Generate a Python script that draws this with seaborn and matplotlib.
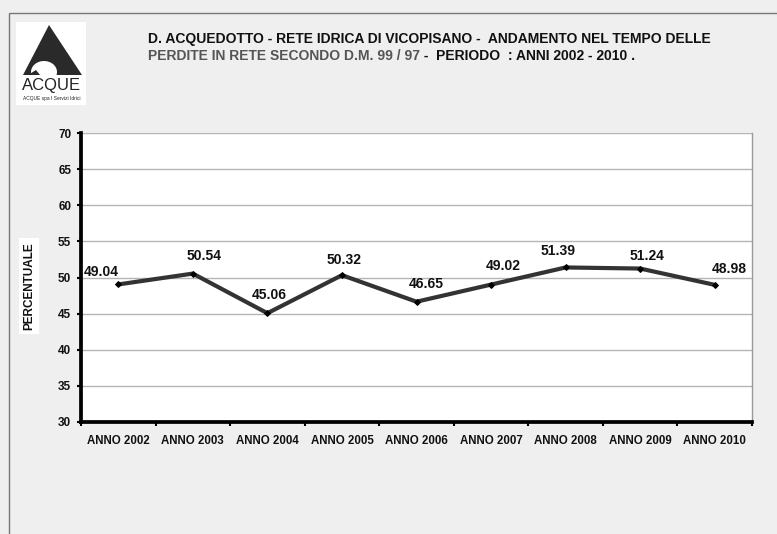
import numpy as np
import pandas as pd
import matplotlib
matplotlib.use('Agg')
import matplotlib.pyplot as plt
import seaborn as sns
from matplotlib.patches import Rectangle, Polygon, Ellipse

# dati
anni = ['ANNO 2002', 'ANNO 2003', 'ANNO 2004', 'ANNO 2005', 'ANNO 2006',
        'ANNO 2007', 'ANNO 2008', 'ANNO 2009', 'ANNO 2010']
perdite = [49.04, 50.54, 45.06, 50.32, 46.65, 49.02, 51.39, 51.24, 48.98]

# spostamento etichette (pixel) come nell'originale
nudge_x = [-17, 11, 2, 2, 10, 12, -8, 7, 15]
nudge_y = [12, 18, 18, 15, 18, 19, 16, 13, 16]

sns.set_theme(style='white')
plt.rcParams['font.family'] = ['Liberation Sans', 'DejaVu Sans']

df = pd.DataFrame({'anno': anni, 'perdite': perdite})

fig = plt.figure(figsize=(7.77, 5.34), dpi=100, facecolor='#efefef')
W, H = 777, 534

# cornice grigia
fig.patches.append(Rectangle((9 / W, -0.1), 1.1, 1 - 13 / H + 0.1, transform=fig.transFigure,
                             fill=False, edgecolor='#777777', lw=1.0, zorder=0))

ax = fig.add_axes([81 / W, 1 - 422 / H, (752 - 81) / W, (422 - 133) / H])
ax.set_facecolor('white')

sns.lineplot(data=df, x='anno', y='perdite', ax=ax, color='#333333', lw=3,
             marker='D', markersize=3, markerfacecolor='black', markeredgecolor='black',
             sort=False, zorder=3)

for i, v in enumerate(perdite):
    ax.annotate(f'{v:.2f}', (i, v), xytext=(nudge_x[i], nudge_y[i]), textcoords='offset pixels',
                ha='center', va='center', fontsize=10, fontweight='bold', color='#111111')

ax.set_xlim(-0.5, len(anni) - 0.5)
ax.set_ylim(30, 70)
ax.set_yticks(np.arange(30, 71, 5))
ax.yaxis.grid(True, color='#b5b5b5', lw=1)
ax.xaxis.grid(False)
ax.set_xticks(np.arange(-0.5, len(anni), 1), minor=True)
ax.tick_params(axis='x', which='major', length=0, pad=9, labelsize=8.3)
ax.tick_params(axis='x', which='minor', length=3, width=1.5, color='black', direction='out', bottom=True)
ax.tick_params(axis='y', length=3, width=1.5, color='black', direction='out', left=True, pad=4, labelsize=8.5)
for lab in ax.get_xticklabels() + ax.get_yticklabels():
    lab.set_fontweight('bold')
    lab.set_color('#111111')

for s in ['left', 'bottom']:
    ax.spines[s].set_color('black')
    ax.spines[s].set_linewidth(2.7)
ax.spines['right'].set_color('#999999')
ax.spines['right'].set_linewidth(1)
ax.spines['top'].set_visible(False)
ax.set_xlabel('')
ax.set_ylabel('')

fig.text(29 / W, 1 - 286 / H, 'PERCENTUALE', rotation=90, ha='center', va='center',
         fontsize=8.5, fontweight='bold', color='#111111',
         bbox=dict(facecolor='white', edgecolor='none', pad=3))

# logo
fig.patches.append(Rectangle((16 / W, 1 - 105 / H), 70 / W, 83 / H, transform=fig.transFigure,
                             facecolor='white', edgecolor='none', zorder=1))
fig.patches.append(Polygon([(49 / W, 1 - 25 / H), (23 / W, 1 - 75 / H), (82 / W, 1 - 75 / H)],
                           closed=True, transform=fig.transFigure, facecolor='#2a2a2a',
                           edgecolor='none', zorder=2))
fig.patches.append(Ellipse((44 / W, 1 - 72 / H), 26 / W, 22 / H, transform=fig.transFigure,
                           facecolor='white', edgecolor='none', zorder=3))
fig.patches.append(Polygon([(36 / W, 1 - 70 / H), (28 / W, 1 - 75 / H), (40 / W, 1 - 75 / H)],
                           closed=True, transform=fig.transFigure, facecolor='#2a2a2a',
                           edgecolor='none', zorder=4))
fig.text(52 / W, 1 - 90 / H, 'ACQUE', ha='center', va='baseline', fontsize=12,
         color='#222222', family=['Liberation Sans Narrow', 'Liberation Sans'])
fig.text(52 / W, 1 - 100 / H, 'ACQUE spa I Servizi Idrici', ha='center', va='baseline',
         fontsize=3.5, color='#222222')

# titolo
t1 = fig.text(148 / W, 1 - 39 / H, 'D. ACQUEDOTTO - RETE IDRICA DI VICOPISANO -  ANDAMENTO NEL TEMPO DELLE',
              ha='left', va='center', fontsize=10, fontweight='bold', color='#111111')
t2 = fig.text(148 / W, 1 - 56 / H, 'PERDITE IN RETE SECONDO D.M. 99 / 97',
              ha='left', va='center', fontsize=10, fontweight='bold', color='#555555')
fig.canvas.draw()
bb = t2.get_window_extent()
fig.text(bb.x1 / W, 1 - 56 / H, ' -  PERIODO  : ANNI 2002 - 2010 .',
         ha='left', va='center', fontsize=10, fontweight='bold', color='#111111')

fig.savefig('out.png', dpi=100, facecolor=fig.get_facecolor())
